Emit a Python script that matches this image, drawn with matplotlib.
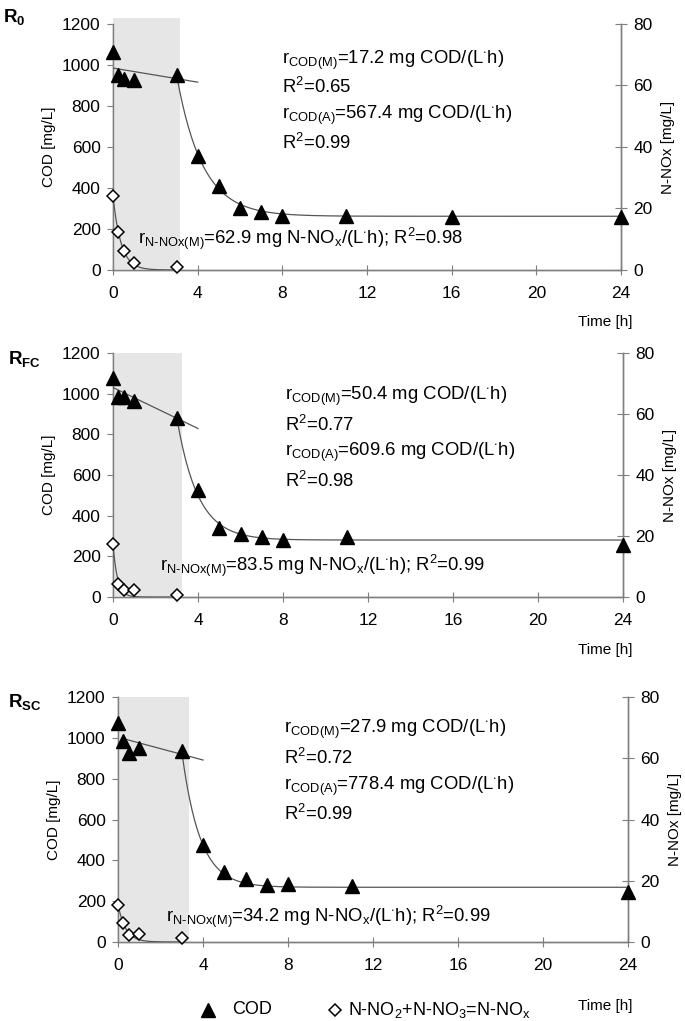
import numpy as np
import matplotlib
matplotlib.use('Agg')
import matplotlib.pyplot as plt
from matplotlib.lines import Line2D
from matplotlib.patches import Rectangle

plt.rcParams['font.family'] = ['Liberation Sans', 'DejaVu Sans']
plt.rcParams['mathtext.fontset'] = 'custom'
plt.rcParams['mathtext.rm'] = 'Liberation Sans'
plt.rcParams['mathtext.it'] = 'Liberation Sans:italic'
plt.rcParams['mathtext.bf'] = 'Liberation Sans:bold'

# ---- data ----
panel_names = [r'$\mathbf{R}_{\mathbf{0}}$', r'$\mathbf{R}_{\mathbf{FC}}$', r'$\mathbf{R}_{\mathbf{SC}}$']

time_r0 = [0, 0.25, 0.5, 1, 3, 4, 5, 6, 7, 8, 11, 16, 24]
cod_r0 = [1065, 950, 930, 928, 952, 558, 408, 302, 285, 262, 262, 260, 260]
time_rfc = [0, 0.25, 0.5, 1, 3, 4, 5, 6, 7, 8, 11, 24]
cod_rfc = [1078, 985, 985, 962, 882, 528, 338, 312, 295, 282, 295, 258]
time_rsc = [0, 0.25, 0.5, 1, 3, 4, 5, 6, 7, 8, 11, 24]
cod_rsc = [1073, 983, 927, 950, 934, 473, 343, 307, 280, 282, 276, 243]

nox_time = [0, 0.25, 0.5, 1, 3]
nox_r0 = [23.9, 12.3, 6.2, 2.3, 1.1]
nox_rfc = [17.3, 4.4, 2.4, 2.3, 0.6]
nox_rsc = [12.2, 6.2, 2.2, 2.5, 1.3]

# fitted rates printed on the chart
r_cod_m = [17.2, 50.4, 27.9]
r2_cod_m = [0.65, 0.77, 0.72]
r_cod_a = [567.4, 609.6, 778.4]
r2_cod_a = [0.99, 0.98, 0.99]
r_nox_m = [62.9, 83.5, 34.2]
r2_nox_m = [0.98, 0.99, 0.99]

# fit line parameters (intercepts / plateaus)
lin_intercept = [985, 1030, 1003]
lin_start = [0, 0, 0.25]
cod_plateau = [262, 280, 268]
shade_end = [3.15, 3.25, 3.33]
shade_top = [1230, 1200, 1200]

times = [time_r0, time_rfc, time_rsc]
cods = [cod_r0, cod_rfc, cod_rsc]
noxs = [nox_r0, nox_rfc, nox_rsc]

# layout (figure fractions)
axes_pos = [
    [0.165, 0.7356, 0.7416, 0.2409],
    [0.165, 0.4153, 0.7445, 0.2390],
    [0.1723, 0.0774, 0.7445, 0.2399],
]
text_x = [8.0, 8.1, 7.8]
text_y = [[1022, 895, 755, 618], [985, 848, 712, 573], [1040, 903, 762, 628]]
nox_text_pos = [(1.2, 150), (2.2, 155), (2.25, 125)]
label_pos = [(0.005, 0.993), (0.012, 0.658), (0.012, 0.322)]
time_label_y = [0.6846, 0.3634, 0.0147]

gray = '#7f7f7f'
fit_color = '#555555'
tri_size = 10.5
dia_size = 6

fig = plt.figure(figsize=(6.85, 10.21), dpi=100)

for i in range(3):
    ax = fig.add_axes(axes_pos[i])
    ax2 = ax.twinx()
    ax.set_zorder(ax2.get_zorder() + 1)
    ax.patch.set_visible(False)

    ax.set_xlim(0, 24)
    ax.set_ylim(0, 1200)
    ax2.set_ylim(0, 80)
    ax.add_patch(Rectangle((0, 0), shade_end[i], shade_top[i], facecolor='#e6e6e6',
                           edgecolor='none', zorder=0, clip_on=False))

    t = np.array(times[i])
    c = np.array(cods[i])
    ax.plot(t, c, linestyle='none', marker='^', color='black', markersize=tri_size, zorder=5, clip_on=False)

    # linear fit (mixed phase)
    tl = np.array([lin_start[i], 4])
    ax.plot(tl, lin_intercept[i] - r_cod_m[i] * tl, color=fit_color, lw=0.9, zorder=3)

    # first-order decay after aeration starts (t=3)
    c3 = c[list(t).index(3)]
    k = r_cod_a[i] / (c3 - cod_plateau[i])
    tc = np.linspace(3, 24, 300)
    ax.plot(tc, cod_plateau[i] + (c3 - cod_plateau[i]) * np.exp(-k * (tc - 3)),
            color=fit_color, lw=0.9, zorder=3)

    # NOx on secondary axis (drawn in ax units: 1200 <-> 80)
    n = np.array(noxs[i])
    tn = np.array(nox_time)
    kn = r_nox_m[i] / n[0]
    tnc = np.linspace(0, 3, 200)
    ax.plot(tnc, n[0] * np.exp(-kn * tnc) * 15, color=fit_color, lw=0.9, zorder=3)
    ax.plot(tn, n * 15, linestyle='none', marker='D', markersize=dia_size,
            markerfacecolor='white', markeredgecolor='black', markeredgewidth=1.1, zorder=6, clip_on=False)

    # axes styling
    for a in (ax, ax2):
        a.spines['top'].set_visible(False)
        for s in ('left', 'right', 'bottom'):
            a.spines[s].set_color(gray)
            a.spines[s].set_linewidth(1.0)
    ax.set_xticks(range(0, 25, 4))
    ax.set_yticks(range(0, 1201, 200))
    ax2.set_yticks(range(0, 81, 20))
    ax.tick_params(axis='x', direction='inout', length=7, color=gray, labelsize=12.5, pad=8)
    ax.tick_params(axis='y', direction='out', length=4, color=gray, labelsize=12.5, pad=5)
    ax2.tick_params(axis='y', direction='inout', length=8, color=gray, labelsize=12.5, pad=5)
    ax.set_ylabel('COD [mg/L]', fontsize=11, labelpad=4)
    ax2.set_ylabel('N-NOx [mg/L]', fontsize=11, labelpad=6)

    # annotations
    ax.text(text_x[i], text_y[i][0], r'r$_{\mathrm{COD(M)}}$=%.1f mg COD/(L$^{\cdot}$h)' % r_cod_m[i], fontsize=13.3, va='center')
    ax.text(text_x[i], text_y[i][1], r'R$^{2}$=%.2f' % r2_cod_m[i], fontsize=13.3, va='center')
    ax.text(text_x[i], text_y[i][2], r'r$_{\mathrm{COD(A)}}$=%.1f mg COD/(L$^{\cdot}$h)' % r_cod_a[i], fontsize=13.3, va='center')
    ax.text(text_x[i], text_y[i][3], r'R$^{2}$=%.2f' % r2_cod_a[i], fontsize=13.3, va='center')
    ax.text(nox_text_pos[i][0], nox_text_pos[i][1],
            r'r$_{\mathrm{N\text{-}NOx(M)}}$=%.1f mg N-NO$_{\mathrm{x}}$/(L$^{\cdot}$h); R$^{2}$=%.2f' % (r_nox_m[i], r2_nox_m[i]),
            fontsize=13.3, va='center', zorder=7)

    fig.text(label_pos[i][0], label_pos[i][1], panel_names[i], fontsize=13.5, va='top')
    fig.text(0.924, time_label_y[i], 'Time [h]', fontsize=11, ha='right', va='center')

# legend at the bottom, placed by hand
leg_y = 0.011
fig.add_artist(Line2D([0.3036], [leg_y], transform=fig.transFigure, linestyle='none',
                      marker='^', color='black', markersize=tri_size))
fig.text(0.3387, leg_y, 'COD', fontsize=13, va='center')
fig.add_artist(Line2D([0.489], [leg_y], transform=fig.transFigure, linestyle='none', marker='D',
                      markersize=dia_size, markerfacecolor='white', markeredgecolor='black',
                      markeredgewidth=1.1))
fig.text(0.508, leg_y, r'N-NO$_2$+N-NO$_3$=N-NO$_{\mathrm{x}}$', fontsize=13, va='center')

fig.savefig('out.png', dpi=100)
